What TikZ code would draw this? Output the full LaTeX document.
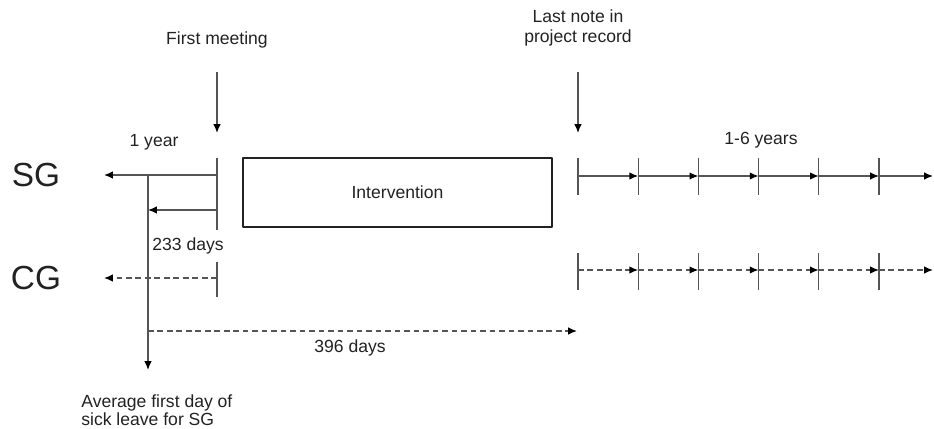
\documentclass[tikz,border=0pt]{standalone}
\usepackage{fontspec}
\setmainfont{Liberation Sans}
\usetikzlibrary{arrows.meta,positioning}
\definecolor{linegray}{HTML}{555555}
\definecolor{textgray}{HTML}{222222}
\tikzset{>={Latex[length=5pt,width=4.2pt,color=black]}}
\tikzset{
  tline/.style={draw=linegray, line width=0.75pt},
  dline/.style={tline, dash pattern=on 3.2pt off 2.2pt},
  lbl/.style={font=\fontsize{10}{11}\selectfont, text=textgray, inner sep=0pt, align=center},
  grp/.style={font=\fontsize{19}{20}\selectfont, text=textgray, inner sep=0pt}
}

\begin{document}
\begin{tikzpicture}[x=0.02cm, y=-0.02cm, line join=round]
    \useasboundingbox (0,0) rectangle (934,429);

    % group labels
    \node[grp] (sg) at (36,175) {SG};
    \node[grp] (cg) at (36,278) {CG};

    % events
    \node[lbl] (first) at (217,40) {First meeting};
    \node[lbl] (last) at (578,28) {Last note in\\project record};
    \coordinate (fma) at (217,72);
    \coordinate (fmb) at (217,133);
    \coordinate (lna) at (578,72);
    \coordinate (lnb) at (578,133);
    \draw[tline,->] (fma) -- (fmb);
    \draw[tline,->] (lna) -- (lnb);

    \node[lbl] (year) at (154,142) {1 year};
    \node[lbl] (years) at (761,140) {1-6 years};

    % intervention
    \node[draw=textgray, line width=0.75pt, minimum width=6.18cm, minimum height=1.38cm,
          font=\fontsize{10}{11}\selectfont, text=textgray] (int) at (397.5,192.5) {Intervention};

    % before first meeting
    \coordinate (sgt) at (217,158);
    \coordinate (sgb) at (217,230);
    \coordinate (cgt) at (217,262);
    \coordinate (cgb) at (217,297);
    \draw[tline] (sgt) -- (sgb);
    \draw[tline] (cgt) -- (cgb);

    \coordinate (sga) at (217,175);
    \coordinate (sge) at (104,175);
    \coordinate (ina) at (217,210);
    \coordinate (ine) at (148,210);
    \coordinate (cga) at (217,278);
    \coordinate (cge) at (104,278);
    \draw[tline,->] (sga) -- (sge);
    \draw[tline,->] (ina) -- (ine);
    \draw[dline,->] (cga) -- (cge);

    \node[lbl] (d233) at (188,246) {233 days};

    \coordinate (avt) at (148,175);
    \coordinate (avb) at (148,370);
    \draw[tline,->] (avt) -- (avb);
    \node[lbl, align=left, anchor=north west, font=\fontsize{10}{10.4}\selectfont] (avg) at (81,394)
        {Average first day of\\sick leave for SG};

    \coordinate (da) at (148,331);
    \coordinate (de) at (577,331);
    \draw[dline,->] (da) -- (de);
    \node[lbl] (d396) at (350,348) {396 days};

    % follow-up years
    \foreach \i in {0,...,5} {
        \coordinate (s\i) at (578+60.2*\i,176);
        \coordinate (c\i) at (578+60.2*\i,270);
        \draw[tline] (578+60.2*\i,158) -- (578+60.2*\i,195);
        \draw[tline] (578+60.2*\i,253) -- (578+60.2*\i,290);
    }
    \coordinate (s6) at (933,176);
    \coordinate (c6) at (933,270);
    \foreach \i [evaluate=\i as \j using int(\i+1)] in {0,...,5} {
        \draw[tline,->] (s\i) -- (s\j);
        \draw[dline,->] (c\i) -- (c\j);
    }

\end{tikzpicture}
\end{document}
